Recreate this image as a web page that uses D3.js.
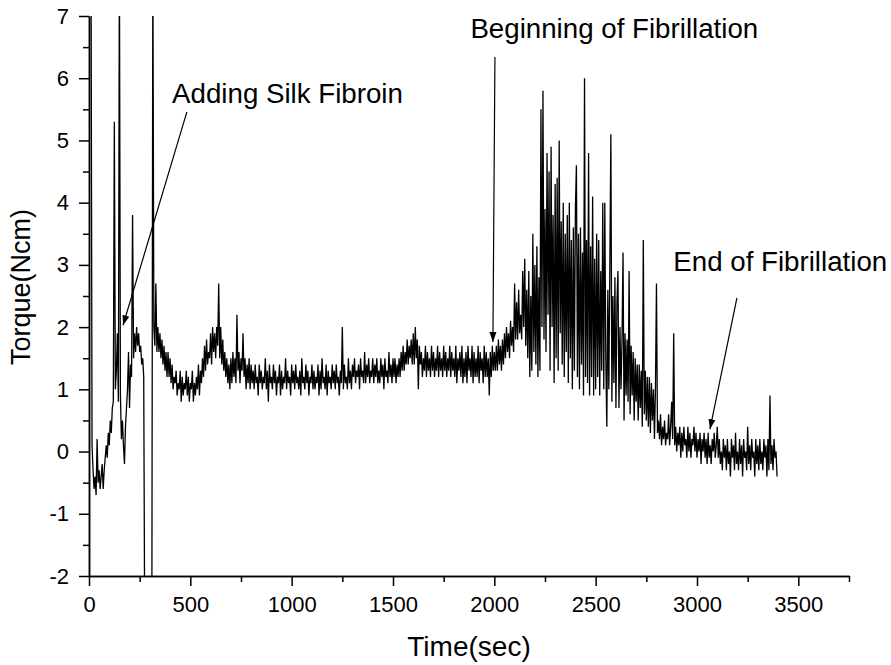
<!DOCTYPE html>
<html>
<head>
<meta charset="utf-8">
<script src="https://cdn.jsdelivr.net/npm/d3@7"></script>
<style>
  body { margin: 0; background: #fff; }
  svg { font-family: Arial, "Liberation Sans", sans-serif; }
</style>
</head>
<body>
<svg id="chart" width="891" height="665"></svg>
<script>
// torque readings, one every 5 s starting at t = 10 s (values off the chart are kept beyond the axis range)
var sampleStart = 10, sampleStep = 5;
var torque = [
  // 10 - 105
  8, 0.1, -0.3, -0.6, -0.4, -0.7, 0.2, -0.5, -0.3, -0.6, -0.4, -0.2, -0.6, -0.3, -0.1, 0.1, -0.1, 0.3, 0.1, 0.5,
  // 110 - 205
  0.3, 0.7, 0.8, 5.3, 1.0, 1.3, 1.9, 0.8, 8, 0.9, 0.2, 0.5, 0.1, -0.2, 0.4, 0.7, 1.0, 1.6, 0.7, 1.4,
  // 210 - 305
  1.2, 3.8, 1.5, 1.9, 1.6, 2.0, 1.7, 1.9, 1.6, 1.7, 1.4, 1.5, 1.2, -3, -3, -3, -3, -3, -3, -3,
  // 310 - 405
  -3, 8, 2.0, 1.7, 2.7, 1.6, 2.0, 1.6, 1.9, 1.5, 1.8, 1.4, 1.7, 1.3, 1.6, 1.2, 1.6, 1.2, 1.5, 1.1,
  // 410 - 505
  1.4, 1.0, 1.2, 1.1, 1.3, 0.9, 1.1, 1.0, 1.3, 0.8, 1.2, 0.9, 1.1, 1.0, 1.3, 0.9, 1.2, 0.8, 1.1, 1.0,
  // 510 - 605
  1.3, 0.8, 1.1, 0.9, 1.2, 1.0, 1.4, 0.9, 1.3, 1.1, 1.5, 1.2, 1.7, 1.3, 1.8, 1.4, 1.6, 1.5, 1.9, 1.4,
  // 610 - 705
  2.0, 1.6, 1.9, 1.5, 2.0, 1.7, 2.7, 1.5, 2.0, 1.4, 1.8, 1.3, 1.6, 1.2, 1.5, 1.1, 1.4, 1.0, 1.5, 1.1,
  // 710 - 805
  1.6, 1.2, 1.5, 1.1, 2.2, 1.3, 1.6, 1.1, 1.5, 1.3, 1.9, 1.2, 1.5, 1.0, 1.4, 1.1, 1.5, 1.0, 1.4, 1.1,
  // 810 - 905
  1.3, 1.0, 1.4, 1.1, 1.2, 0.9, 1.4, 1.1, 1.3, 1.0, 1.2, 1.1, 1.5, 1.0, 1.3, 0.8, 1.4, 1.1, 1.2, 1.0,
  // 910 - 1005
  1.4, 1.1, 1.3, 0.9, 1.2, 1.1, 1.4, 0.9, 1.3, 1.0, 1.2, 1.1, 1.5, 1.0, 1.3, 1.1, 1.2, 0.9, 1.4, 1.1,
  // 1010 - 1105
  1.3, 1.0, 1.4, 1.1, 1.2, 1.0, 1.3, 0.9, 1.5, 1.1, 1.2, 1.0, 1.4, 1.1, 1.3, 0.9, 1.2, 1.1, 1.4, 1.0,
  // 1110 - 1205
  1.3, 1.0, 1.2, 1.1, 1.4, 0.9, 1.3, 1.0, 1.5, 1.1, 1.2, 1.0, 1.4, 0.9, 1.3, 1.1, 1.2, 1.0, 1.4, 1.1,
  // 1210 - 1305
  1.3, 1.0, 1.4, 1.1, 1.2, 0.9, 1.3, 1.1, 2.0, 1.0, 1.4, 1.1, 1.2, 1.0, 1.5, 1.1, 1.3, 1.0, 1.4, 1.2,
  // 1310 - 1405
  1.5, 1.1, 1.3, 1.2, 1.4, 1.0, 1.5, 1.2, 1.3, 1.1, 1.6, 1.1, 1.4, 1.2, 1.5, 1.1, 1.3, 1.2, 1.5, 1.1,
  // 1410 - 1505
  1.4, 1.2, 1.5, 1.1, 1.3, 1.1, 1.5, 1.2, 1.4, 1.0, 1.5, 1.2, 1.3, 1.1, 1.6, 1.2, 1.4, 1.1, 1.5, 1.2,
  // 1510 - 1605
  1.5, 1.1, 1.4, 1.2, 1.5, 1.2, 1.6, 1.3, 1.7, 1.3, 1.6, 1.4, 1.8, 1.4, 1.7, 1.5, 1.8, 1.4, 1.9, 1.4,
  // 1610 - 1705
  2.0, 1.5, 1.8, 1.0, 1.7, 1.4, 1.6, 1.2, 1.5, 1.3, 1.7, 1.2, 1.6, 1.3, 1.5, 1.2, 1.7, 1.3, 1.6, 1.2,
  // 1710 - 1805
  1.5, 1.3, 1.7, 1.2, 1.6, 1.3, 1.5, 1.2, 1.7, 1.3, 1.6, 1.2, 1.5, 1.3, 1.7, 1.2, 1.6, 1.3, 1.5, 1.2,
  // 1810 - 1905
  1.7, 1.1, 1.5, 1.3, 1.6, 1.2, 1.7, 1.1, 1.5, 1.2, 1.6, 1.1, 1.7, 1.3, 1.5, 1.2, 1.7, 1.1, 1.6, 1.2,
  // 1910 - 2005
  1.5, 1.2, 1.7, 1.1, 1.6, 1.3, 1.5, 1.1, 1.7, 1.2, 1.6, 1.2, 1.5, 0.9, 1.6, 1.2, 1.7, 1.3, 1.6, 1.3,
  // 2010 - 2105
  1.7, 1.3, 1.8, 1.4, 1.7, 1.3, 1.8, 1.4, 1.9, 1.5, 2.0, 1.6, 1.9, 1.5, 2.1, 1.7, 2.0, 1.6, 2.7, 1.8,
  // 2110 - 2205
  2.4, 1.8, 2.6, 1.9, 2.2, 1.8, 2.9, 2.0, 3.1, 1.7, 2.6, 1.5, 2.9, 1.2, 2.5, 1.3, 3.5, 1.6, 3.0, 1.4,
  // 2210 - 2305
  3.3, 1.2, 2.8, 1.3, 5.5, 2.0, 5.8, 1.8, 3.9, 1.6, 4.8, 2.2, 4.5, 1.3, 4.9, 2.0, 3.8, 1.1, 4.3, 1.5,
  // 2310 - 2405
  4.4, 1.3, 5.0, 1.9, 3.7, 1.4, 4.0, 1.2, 3.5, 1.6, 3.8, 1.1, 4.0, 1.5, 3.4, 1.0, 3.6, 1.3, 3.9, 4.6,
  // 2410 - 2505
  1.2, 3.5, 1.0, 3.6, 1.4, 3.2, 0.9, 6.0, 1.2, 3.4, 1.1, 4.8, 0.9, 3.3, 1.2, 4.1, 0.9, 3.1, 1.0, 3.5,
  // 2510 - 2605
  1.2, 3.4, 0.9, 2.9, 1.3, 4.0, 1.0, 4.0, 1.5, 0.4, 2.6, 1.0, 3.0, 5.1, 0.8, 2.5, 1.1, 2.8, 0.7, 2.4,
  // 2610 - 2705
  2.9, 0.7, 2.0, 1.0, 1.8, 3.2, 0.5, 1.9, 0.9, 1.8, 0.8, 2.9, 0.6, 1.7, 0.9, 1.6, 0.5, 1.5, 0.8, 1.4,
  // 2710 - 2805
  0.5, 1.4, 0.7, 1.3, 0.4, 3.4, 0.6, 1.3, 0.5, 1.2, 0.4, 1.2, 0.3, 1.1, 0.5, 1.0, 0.2, 1.0, 2.7, 0.3,
  // 2810 - 2905
  0.5, 0.2, 0.6, 0.1, 0.4, 0.2, 0.5, 0.1, 0.3, 0.2, 0.6, 0.1, 0.4, 0.8, 0.2, 1.9, 0.1, 0.4, 0.0, 0.3,
  // 2910 - 3005
  0.1, 0.4, -0.1, 0.3, 0.0, 0.4, 0.1, 0.2, -0.1, 0.4, 0.0, 0.3, -0.1, 0.2, 0.1, 0.4, 0.0, 0.3, -0.1, 0.2,
  // 3010 - 3105
  0.0, 0.3, -0.2, 0.2, 0.0, 0.3, -0.1, 0.2, -0.2, 0.3, -0.1, 0.1, -0.2, 0.2, 0.0, 0.3, -0.1, 0.1, 0.4, -0.1,
  // 3110 - 3205
  0.2, -0.2, 0.0, -0.3, 0.2, -0.1, 0.1, -0.3, 0.2, -0.2, 0.0, -0.4, 0.2, -0.1, 0.1, -0.3, 0.3, -0.2, 0.0, -0.3,
  // 3210 - 3305
  0.2, -0.2, 0.1, -0.4, 0.2, -0.1, 0.0, -0.3, 0.4, -0.2, 0.1, -0.3, 0.2, -0.1, 0.0, -0.4, 0.2, -0.2, 0.1, -0.3,
  // 3310 - 3395
  0.2, -0.2, 0.0, -0.3, 0.2, -0.1, 0.1, -0.4, 0.2, -0.3, 0.9, -0.2, 0.1, -0.3, 0.2, -0.1, 0.0, -0.4
];

var xTicks = [0, 500, 1000, 1500, 2000, 2500, 3000, 3500];
var xMinorTicks = [250, 750, 1250, 1750, 2250, 2750, 3250, 3750];
var yTicks = [-2, -1, 0, 1, 2, 3, 4, 5, 6, 7];
var yMinorTicks = [-1.5, -0.5, 0.5, 1.5, 2.5, 3.5, 4.5, 5.5, 6.5];

// annotation text, where the text sits, and arrow from/to in data units
var noteText = ['Adding Silk Fibroin', 'Beginning of Fibrillation', 'End of Fibrillation'];
var noteAt = [[410, 5.6], [1882, 6.65], [2883, 2.9]];
var arrowFrom = [[483, 5.46], [2003, 6.34], [3197, 2.47]];
var arrowTo = [[168, 2.03], [1993, 1.76], [3064, 0.36]];

var margin = { top: 16, right: 42, bottom: 89, left: 89 };
var width = 891 - margin.left - margin.right,
    height = 665 - margin.top - margin.bottom;

var svg = d3.select('#chart');
var g = svg.append('g').attr('transform', 'translate(' + margin.left + ',' + margin.top + ')');

var x = d3.scaleLinear().domain([0, 3750]).range([0, width]);
var y = d3.scaleLinear().domain([-2, 7]).range([height, 0]);

svg.append('defs').append('clipPath').attr('id', 'plot')
  .append('rect').attr('width', width).attr('height', height);

var data = torque.map(function (v, i) { return [sampleStart + i * sampleStep, v]; });

var line = d3.line()
  .x(function (d) { return x(d[0]); })
  .y(function (d) { return y(d[1]); });

g.append('path')
  .datum(data)
  .attr('clip-path', 'url(#plot)')
  .attr('d', line)
  .attr('fill', 'none')
  .attr('stroke', '#000')
  .attr('stroke-width', 1.3)
  .attr('stroke-linejoin', 'miter');

// axes
var plain = function (d) { return String(d); };
g.append('g').attr('transform', 'translate(0,' + height + ')')
  .call(d3.axisBottom(x).tickValues(xTicks).tickSize(10).tickSizeOuter(0).tickPadding(10).tickFormat(plain));
g.append('g').attr('transform', 'translate(0,' + height + ')')
  .call(d3.axisBottom(x).tickValues(xMinorTicks).tickSize(6).tickSizeOuter(0).tickFormat(''));
g.append('g')
  .call(d3.axisLeft(y).tickValues(yTicks).tickSize(10).tickSizeOuter(0).tickPadding(10).tickFormat(plain));
g.append('g')
  .call(d3.axisLeft(y).tickValues(yMinorTicks).tickSize(6).tickSizeOuter(0).tickFormat(''));

g.selectAll('.domain').attr('stroke', '#000').attr('stroke-width', 1.5);
g.selectAll('.tick line').attr('stroke', '#000').attr('stroke-width', 1.5);
g.selectAll('.tick text')
  .attr('fill', '#000')
  .style('font-size', '22px')
  .style('font-family', 'Arial, "Liberation Sans", sans-serif');

svg.append('text')
  .attr('x', 469)
  .attr('y', 656)
  .attr('text-anchor', 'middle')
  .style('font-size', '28px')
  .text('Time(sec)');

svg.append('text')
  .attr('transform', 'translate(30,287) rotate(-90)')
  .attr('text-anchor', 'middle')
  .style('font-size', '27px')
  .text('Torque(Ncm)');

// annotations
var defs = svg.select('defs');
defs.append('marker')
  .attr('id', 'head')
  .attr('viewBox', '0 0 10 10')
  .attr('refX', 10).attr('refY', 5)
  .attr('markerWidth', 10).attr('markerHeight', 10)
  .attr('markerUnits', 'userSpaceOnUse')
  .attr('orient', 'auto')
  .append('path').attr('d', 'M0,1.5L10,5L0,8.5Z').attr('fill', '#000');

noteText.forEach(function (t, i) {
  g.append('text')
    .attr('x', x(noteAt[i][0]))
    .attr('y', y(noteAt[i][1]))
    .style('font-size', '27.7px')
    .text(t);
  g.append('line')
    .attr('x1', x(arrowFrom[i][0])).attr('y1', y(arrowFrom[i][1]))
    .attr('x2', x(arrowTo[i][0])).attr('y2', y(arrowTo[i][1]))
    .attr('stroke', '#000')
    .attr('stroke-width', 1.2)
    .attr('marker-end', 'url(#head)');
});
</script>
</body>
</html>
